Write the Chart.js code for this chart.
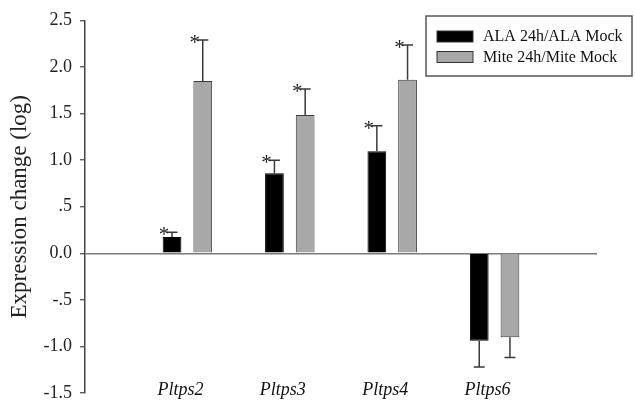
<!DOCTYPE html>
<html>
<head>
<meta charset="utf-8">
<script src="https://cdn.jsdelivr.net/npm/chart.js@4/dist/chart.umd.min.js"></script>
<style>
  html, body { margin: 0; padding: 0; background: #fff; }
  canvas { display: block; }
</style>
</head>
<body>
<canvas id="chart" width="635" height="402"></canvas>
<script>
// data
const genes = ["Pltps2", "Pltps3", "Pltps4", "Pltps6"];
const genePos = [1, 2, 3, 4];
const alaValues = [0.175, 0.86, 1.095, -0.94];
const alaErrors = [0.05, 0.14, 0.275, 0.28];
const alaSig = [true, true, true, false];
const miteValues = [1.85, 1.485, 1.863, -0.90];
const miteErrors = [0.44, 0.28, 0.375, 0.22];
const miteSig = [true, true, true, false];
const yTickValues = [-1.5, -1.0, -0.5, 0, 0.5, 1.0, 1.5, 2.0, 2.5];
const yTickLabels = ["-1.5", "-1.0", "-.5", "0.0", ".5", "1.0", "1.5", "2.0", "2.5"];

const serif = "'Liberation Serif', 'Times New Roman', serif";

function points(values) {
    return values.map((v, i) => ({ x: genePos[i], y: v }));
}

// error bars + asterisks, drawn from the same arrays
const errorBars = {
    id: "errorBars",
    afterDatasetsDraw(chart) {
        const ctx = chart.ctx;
        const yScale = chart.scales.y;
        chart.data.datasets.forEach((ds, di) => {
            const meta = chart.getDatasetMeta(di);
            meta.data.forEach((bar, i) => {
                const v = ds.data[i].y;
                const e = ds.errors[i];
                const end = yScale.getPixelForValue(v >= 0 ? v + e : v - e);
                ctx.save();
                ctx.strokeStyle = "#3a3a3a";
                ctx.lineWidth = 1.5;
                ctx.beginPath();
                ctx.moveTo(bar.x, bar.y);
                ctx.lineTo(bar.x, end);
                ctx.moveTo(bar.x - 5.5, end);
                ctx.lineTo(bar.x + 5.5, end);
                ctx.stroke();
                if (ds.sig[i]) {
                    ctx.fillStyle = "#222";
                    ctx.font = "21px " + serif;
                    ctx.textAlign = "center";
                    ctx.textBaseline = "alphabetic";
                    ctx.fillText("*", bar.x - 8, end + 9);
                }
                ctx.restore();
            });
        });
    }
};

// gene names under the groups (italic), placed with the x scale
const geneLabels = {
    id: "geneLabels",
    afterDraw(chart) {
        const ctx = chart.ctx;
        const xScale = chart.scales.x;
        ctx.save();
        ctx.fillStyle = "#111";
        ctx.font = "italic 18px " + serif;
        ctx.textAlign = "center";
        ctx.textBaseline = "alphabetic";
        genes.forEach((g, i) => {
            ctx.fillText(g, xScale.getPixelForValue(genePos[i]) - 7, 395);
        });
        ctx.restore();
    }
};

// boxed legend in the top right corner
const boxLegend = {
    id: "boxLegend",
    afterDraw(chart) {
        const ctx = chart.ctx;
        ctx.save();
        ctx.strokeStyle = "#555";
        ctx.lineWidth = 1.5;
        ctx.strokeRect(426, 16, 206, 60);
        chart.data.datasets.forEach((ds, i) => {
            const y = 31 + i * 20.5;
            ctx.fillStyle = ds.backgroundColor;
            ctx.fillRect(437, y, 36, 11);
            ctx.strokeStyle = "#333";
            ctx.lineWidth = 1;
            ctx.strokeRect(437, y, 36, 11);
            ctx.fillStyle = "#111";
            ctx.font = "16px " + serif;
            ctx.textAlign = "left";
            ctx.textBaseline = "middle";
            ctx.fillText(ds.label, 483, y + 6);
        });
        ctx.restore();
    }
};

new Chart(document.getElementById("chart"), {
    type: "bar",
    data: {
        datasets: [
            {
                label: "ALA 24h/ALA Mock",
                data: points(alaValues),
                errors: alaErrors,
                sig: alaSig,
                backgroundColor: "#000000",
                borderColor: "#000000",
                borderWidth: 1,
            },
            {
                label: "Mite 24h/Mite Mock",
                data: points(miteValues),
                errors: miteErrors,
                sig: miteSig,
                backgroundColor: "#a8a8a8",
                borderColor: "#3c3c3c",
                borderWidth: 1,
            },
        ],
    },
    options: {
        responsive: false,
        animation: false,
        layout: { padding: { top: 20.5, right: 38, bottom: 9, left: 0 } },
        categoryPercentage: 0.6,
        barPercentage: 0.61,
        plugins: {
            legend: { display: false },
            tooltip: { enabled: false },
        },
        scales: {
            x: {
                type: "linear",
                min: 0,
                max: 5,
                offset: false,
                afterBuildTicks: (axis) => {
                    axis.ticks = [0].concat(genePos, [5]).map(v => ({ value: v }));
                },
                afterFit: (axis) => {
                    axis.height = 0;
                    axis.paddingLeft = 0;
                    axis.paddingRight = 0;
                },
                grid: { display: false },
                border: { display: false },
                ticks: { display: false },
            },
            y: {
                min: -1.5,
                max: 2.5,
                afterBuildTicks: (axis) => {
                    axis.ticks = yTickValues.map(v => ({ value: v }));
                },
                afterFit: (axis) => {
                    axis.width = 85;
                    axis.paddingTop = 0;
                    axis.paddingBottom = 0;
                },
                grid: {
                    color: (c) => (c.tick && c.tick.value === 0 ? "#7a7a7a" : "rgba(0,0,0,0)"),
                    lineWidth: 1.5,
                    drawTicks: true,
                    tickLength: 5,
                    tickColor: "#444",
                    tickWidth: 1.2,
                },
                border: { display: true, color: "#444", width: 1.5 },
                ticks: {
                    padding: 8,
                    color: "#222",
                    font: { family: serif, size: 18, lineHeight: 1 },
                    callback: (v) => {
                        const i = yTickValues.indexOf(v);
                        return i >= 0 ? yTickLabels[i] : "";
                    },
                },
                title: {
                    display: true,
                    text: "Expression change (log)",
                    color: "#222",
                    font: { family: serif, size: 23 },
                    padding: { top: 6, bottom: 0 },
                },
            },
        },
    },
    plugins: [errorBars, geneLabels, boxLegend],
});
</script>
</body>
</html>
